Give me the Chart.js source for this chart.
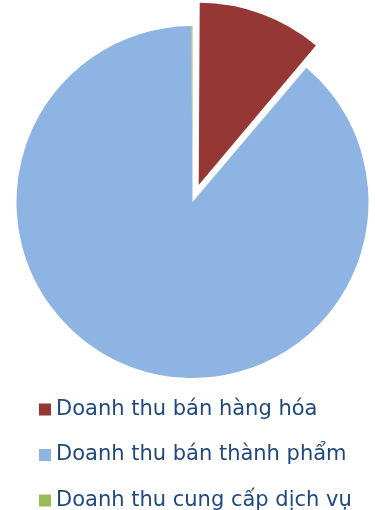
<!DOCTYPE html>
<html>
<head>
<meta charset="utf-8">
<script src="https://cdn.jsdelivr.net/npm/chart.js@4/dist/chart.umd.min.js"></script>
<style>
  html, body { margin: 0; padding: 0; background: #ffffff; overflow: hidden; }
  #wrap { position: relative; width: 375px; height: 521px; }
</style>
</head>
<body>
<div id="wrap"><canvas id="c"></canvas></div>
<script>
const categories = ["Doanh thu bán hàng hóa", "Doanh thu bán thành phẩm", "Doanh thu cung cấp dịch vụ"];
const shares = [11.2, 88.7, 0.1];
const sliceColors = ["#953735", "#8EB4E3", "#9BBB59"];
const sliceOffsets = [72, 0, 0];

new Chart(document.getElementById("c"), {
  type: "pie",
  data: {
    labels: categories,
    datasets: [{
      data: shares,
      backgroundColor: sliceColors,
      borderWidth: 0,
      offset: sliceOffsets,
      clip: false
    }]
  },
  options: {
    responsive: true,
    maintainAspectRatio: false,
    animation: false,
    radius: 176,
    layout: { padding: { left: 20, right: 10, top: 29.5, bottom: 0 } },
    plugins: {
      tooltip: { enabled: false },
      legend: {
        position: "bottom",
        align: "start",
        labels: {
          usePointStyle: true,
          pointStyle: "rect",
          boxWidth: 1,
          boxHeight: 12,
          padding: 24.5,
          color: "#1F497D",
          font: { family: "'DejaVu Sans', Verdana, sans-serif", size: 21 }
        }
      }
    }
  }
});
</script>
</body>
</html>
